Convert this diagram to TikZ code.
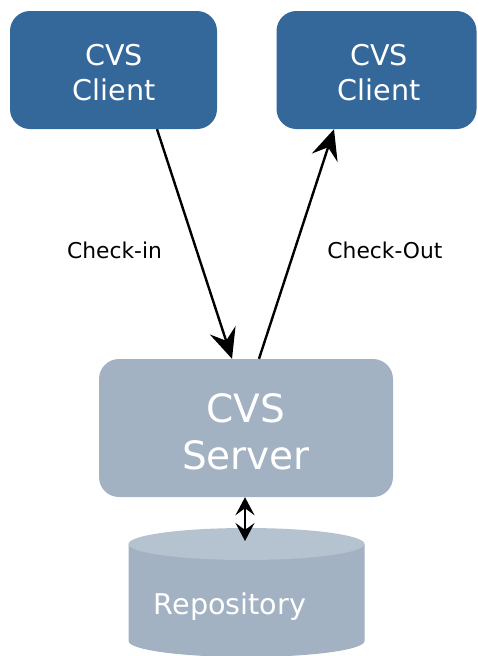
\documentclass[tikz,border=0pt]{standalone}
\usepackage{fontspec}
\setmainfont{DejaVu Sans}
\usetikzlibrary{arrows.meta}
\definecolor{clientblue}{HTML}{34689A}
\definecolor{servergray}{HTML}{A3B2C2}
\definecolor{cyltop}{HTML}{B5C2CF}
\tikzset{
  clientbox/.style={draw=none, fill=clientblue, rounded corners=20pt, minimum height=118pt, inner sep=0pt},
  serverbox/.style={draw=none, fill=servergray, rounded corners=20pt, minimum width=294pt, minimum height=138pt, inner sep=0pt},
  boxtext/.style={text=white, anchor=base, inner sep=0pt, font=\fontsize{28.6}{34}\selectfont},
  bigtext/.style={text=white, anchor=base, inner sep=0pt, font=\fontsize{39}{46}\selectfont},
  lbl/.style={text=black, anchor=base, inner sep=0pt, font=\fontsize{21.8}{26}\selectfont},
  flow/.style={line width=2.4pt, -{Stealth[length=30pt,width=27pt,inset=11pt]}},
  dflow/.style={line width=2.2pt, {Stealth[length=18pt,width=19pt,inset=7pt]}-{Stealth[length=18pt,width=19pt,inset=7pt]}},
}
\begin{document}
\begin{tikzpicture}[x=1pt,y=-1pt]
\useasboundingbox (0,0) rectangle (478,656);
% clients
\node[clientbox, minimum width=207pt] (client1) at (113.5,70) {};
\node[clientbox, minimum width=200pt] (client2) at (376.5,70) {};
\node[boxtext] (c1a) at (114,65) {CVS};
\node[boxtext] (c1b) at (114,100) {Client};
\node[boxtext] (c2a) at (379,65) {CVS};
\node[boxtext] (c2b) at (379,100) {Client};
% server
\node[serverbox] (server) at (246,428) {};
\node[bigtext] (sa) at (246,422) {CVS};
\node[bigtext] (sb) at (246,469) {Server};
% repository cylinder
\begin{scope}
\clip (0,0) rectangle (478,656);
\fill[servergray] (128.5,544) -- (128.5,641) arc[start angle=180, end angle=0, x radius=118, y radius=16] -- (364.5,544) -- cycle;
\fill[cyltop] (246.5,544) ellipse[x radius=118, y radius=16];
\end{scope}
\coordinate (repotop) at (245,541);
\node[boxtext] (repo) at (230,614) {Repository};
% connectors
\draw[flow] ([xshift=43.5pt]client1.south) -- ([xshift=-14pt]server.north);
\draw[flow] ([xshift=13pt]server.north) -- ([xshift=-42.5pt]client2.south);
\draw[dflow] ([xshift=-1pt]server.south) -- (repotop);
% labels
\node[lbl] (lin) at (114.5,258) {Check-in};
\node[lbl] (lout) at (385,258) {Check-Out};
\end{tikzpicture}
\end{document}
